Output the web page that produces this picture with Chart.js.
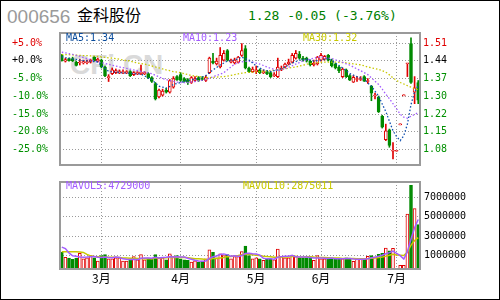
<!DOCTYPE html>
<html>
<head>
<meta charset="utf-8">
<script src="https://cdn.jsdelivr.net/npm/chart.js@4.4.1/dist/chart.umd.min.js"></script>
<style>
  body { margin: 0; background: #fff; }
  #wrap { position: relative; width: 500px; height: 300px; overflow: hidden; background: #fff; }
  #frame { position: absolute; left: 0; top: 0; width: 500px; height: 300px; box-sizing: border-box; border: 1px solid #000; }
  .txt { position: absolute; white-space: nowrap; }
  #code { left: 7px; top: 7px; font: 19px/19px "Liberation Sans", sans-serif; color: #9a9a9a; }
  #name { left: 77px; top: 6px; font: 16px/16px "Noto Sans CJK SC", sans-serif; color: #000; }
  #quote { left: 248px; top: 9px; font: 13px/13px "DejaVu Sans Mono", monospace; color: #008000; }
  .leg { font: 10px/10px "DejaVu Sans Mono", monospace; }
  #watermark { left: 70px; top: 51px; font: bold 28px/28px "Liberation Sans", sans-serif; color: #dadada; }
  canvas { position: absolute; left: 0; }
</style>
</head>
<body>
<div id="wrap">
  <div class="txt" id="code">000656</div>
  <div class="txt" id="name">金科股份</div>
  <div class="txt" id="quote">1.28 -0.05 (-3.76%)</div>
  <div class="txt" id="watermark">CFi.CN</div>
  <canvas id="priceChart" width="500" height="150" style="top:24px"></canvas>
  <canvas id="volChart" width="500" height="128" style="top:172px"></canvas>
  <div class="txt leg" style="left:66px;top:33px;color:#0a4c9c">MA5:1.34</div>
  <div class="txt leg" style="left:183px;top:33px;color:#a35cff">MA10:1.23</div>
  <div class="txt leg" style="left:303px;top:33px;color:#c8c800">MA30:1.32</div>
  <div class="txt leg" style="left:66px;top:181px;color:#a35cff">MAVOL5:4729000</div>
  <div class="txt leg" style="left:243px;top:181px;color:#c8c800">MAVOL10:2875011</div>
  <div id="frame"></div>
</div>
<script>
// reference close for the % axis, and tick labels
const basePrice = 1.44;
const pctTicks = [5, 0, -5, -10, -15, -20, -25];
const volTicks = [7000000, 5000000, 3000000, 1000000];
const monthStarts = [11, 33, 54, 72, 93];
const monthLabels = ['3月', '4月', '5月', '6月', '7月'];

// daily candles
const openP = [1.462,1.439,1.449,1.449,1.435,1.431,1.431,1.433,1.435,1.455,
  1.439,1.443,1.415,1.372,1.388,1.392,1.392,1.392,1.392,1.396,
  1.384,1.388,1.388,1.388,1.388,1.372,1.348,1.293,1.301,1.321,
  1.313,1.333,1.376,1.384,1.368,1.364,1.352,1.360,1.372,1.368,
  1.360,1.392,1.439,1.427,1.415,1.443,1.482,1.435,1.431,1.435,
  1.462,1.490,1.411,1.396,1.396,1.403,1.392,1.396,1.392,1.380,
  1.376,1.403,1.415,1.427,1.435,1.451,1.466,1.451,1.451,1.439,
  1.423,1.427,1.443,1.447,1.462,1.439,1.427,1.415,1.376,1.403,
  1.380,1.353,1.364,1.364,1.376,1.356,1.337,1.297,1.293,1.215,
  1.120,1.160,1.073,1.073,1.180,1.298,1.428,1.510,1.313,1.352];
const closeP = [1.440,1.445,1.441,1.441,1.421,1.435,1.437,1.437,1.443,1.441,
  1.447,1.415,1.380,1.376,1.403,1.400,1.396,1.396,1.396,1.380,
  1.392,1.392,1.394,1.392,1.372,1.356,1.285,1.321,1.317,1.313,
  1.360,1.368,1.362,1.360,1.356,1.352,1.372,1.368,1.360,1.364,
  1.372,1.451,1.431,1.439,1.462,1.470,1.443,1.443,1.443,1.455,
  1.482,1.411,1.396,1.407,1.403,1.392,1.396,1.388,1.376,1.384,
  1.415,1.411,1.427,1.435,1.462,1.470,1.451,1.443,1.439,1.423,
  1.431,1.455,1.462,1.458,1.443,1.419,1.411,1.400,1.407,1.376,
  1.361,1.373,1.366,1.368,1.357,1.358,1.309,1.301,1.234,1.171,
  1.156,1.097,1.073,1.073,1.180,1.298,1.428,1.352,1.330,1.280];
const highP = [1.466,1.451,1.451,1.455,1.439,1.447,1.443,1.443,1.447,1.458,
  1.451,1.447,1.419,1.384,1.411,1.407,1.403,1.403,1.400,1.400,
  1.396,1.396,1.423,1.396,1.392,1.376,1.352,1.325,1.325,1.329,
  1.364,1.376,1.380,1.392,1.372,1.368,1.376,1.376,1.376,1.376,
  1.380,1.455,1.470,1.451,1.494,1.482,1.486,1.447,1.451,1.458,
  1.510,1.502,1.415,1.415,1.419,1.407,1.403,1.400,1.396,1.392,
  1.451,1.419,1.431,1.447,1.470,1.482,1.478,1.458,1.455,1.443,
  1.443,1.458,1.470,1.462,1.466,1.447,1.431,1.419,1.411,1.407,
  1.384,1.380,1.376,1.376,1.380,1.368,1.340,1.309,1.297,1.219,
  1.183,1.163,1.108,1.073,1.180,1.298,1.428,1.533,1.376,1.360];
const lowP = [1.439,1.435,1.439,1.437,1.419,1.423,1.427,1.427,1.431,1.439,
  1.435,1.411,1.376,1.356,1.384,1.388,1.388,1.388,1.388,1.376,
  1.380,1.384,1.384,1.384,1.368,1.352,1.281,1.289,1.297,1.309,
  1.309,1.329,1.360,1.356,1.352,1.344,1.348,1.356,1.356,1.360,
  1.356,1.388,1.427,1.423,1.411,1.439,1.439,1.431,1.427,1.431,
  1.458,1.407,1.392,1.392,1.388,1.388,1.388,1.384,1.372,1.376,
  1.372,1.400,1.411,1.423,1.431,1.447,1.447,1.439,1.435,1.419,
  1.419,1.423,1.439,1.443,1.439,1.415,1.407,1.392,1.372,1.372,
  1.360,1.352,1.356,1.360,1.356,1.348,1.278,1.285,1.230,1.167,
  1.116,1.089,1.042,1.073,1.180,1.298,1.376,1.348,1.266,1.266];

const ma5 = [1.456,1.453,1.451,1.448,1.446,1.443,1.441,1.440,1.438,1.437,
  1.435,1.421,1.409,1.397,1.395,1.394,1.393,1.391,1.390,1.389,
  1.388,1.387,1.386,1.379,1.371,1.364,1.350,1.337,1.333,1.329,
  1.336,1.344,1.348,1.352,1.356,1.360,1.363,1.365,1.368,1.374,
  1.380,1.392,1.403,1.413,1.423,1.431,1.439,1.441,1.443,1.449,
  1.455,1.449,1.443,1.431,1.419,1.411,1.403,1.400,1.396,1.400,
  1.403,1.409,1.415,1.423,1.431,1.437,1.443,1.445,1.447,1.443,
  1.439,1.441,1.443,1.446,1.449,1.440,1.431,1.421,1.411,1.400,
  1.388,1.382,1.376,1.370,1.364,1.350,1.337,1.317,1.297,1.265,
  1.234,1.195,1.156,1.132,1.116,1.136,1.183,1.262,1.314,1.340];
const ma10 = [1.475,1.472,1.469,1.466,1.462,1.458,1.453,1.449,1.444,1.440,
  1.436,1.433,1.429,1.426,1.422,1.419,1.415,1.412,1.409,1.406,
  1.403,1.400,1.397,1.394,1.391,1.388,1.381,1.375,1.368,1.364,
  1.360,1.357,1.354,1.352,1.352,1.352,1.354,1.356,1.359,1.361,
  1.364,1.370,1.375,1.381,1.386,1.392,1.404,1.415,1.427,1.432,
  1.436,1.438,1.439,1.435,1.431,1.427,1.421,1.415,1.410,1.405,
  1.400,1.404,1.407,1.414,1.420,1.427,1.433,1.439,1.443,1.447,
  1.451,1.454,1.456,1.454,1.451,1.449,1.444,1.439,1.434,1.428,
  1.423,1.415,1.407,1.400,1.392,1.384,1.371,1.357,1.344,1.325,
  1.305,1.286,1.266,1.245,1.223,1.211,1.207,1.215,1.222,1.230];
const ma30 = [1.466,1.465,1.465,1.464,1.463,1.462,1.461,1.461,1.460,1.459,
  1.458,1.456,1.454,1.452,1.451,1.449,1.447,1.443,1.441,1.439,
  1.435,1.431,1.429,1.427,1.423,1.419,1.415,1.411,1.407,1.403,
  1.400,1.396,1.394,1.392,1.388,1.384,1.380,1.378,1.376,1.374,
  1.372,1.372,1.373,1.374,1.375,1.376,1.378,1.381,1.384,1.387,
  1.390,1.392,1.393,1.394,1.395,1.396,1.397,1.399,1.400,1.402,
  1.403,1.406,1.408,1.410,1.413,1.415,1.419,1.422,1.426,1.429,
  1.431,1.433,1.434,1.435,1.435,1.435,1.435,1.434,1.433,1.432,
  1.430,1.428,1.426,1.424,1.420,1.415,1.412,1.408,1.405,1.400,
  1.394,1.383,1.371,1.360,1.352,1.346,1.339,1.333,1.327,1.322];

// volume (shares); null = no trading that day
const volume = [1350000,860000,760000,640000,760000,1260000,700000,800000,1030000,800000,
  470000,1030000,1130000,700000,700000,800000,800000,470000,470000,600000,
  930000,600000,1130000,600000,700000,700000,1130000,800000,800000,600000,
  1200000,930000,1030000,700000,600000,540000,370000,500000,370000,470000,
  700000,1620000,1350000,800000,1200000,1030000,1130000,700000,930000,930000,
  1450000,2010000,1030000,700000,800000,700000,540000,700000,700000,600000,
  1690000,930000,800000,800000,1030000,930000,800000,800000,800000,800000,
  540000,1030000,700000,700000,700000,700000,700000,700000,700000,800000,
  700000,450000,650000,700000,700000,950000,1030000,900000,1150000,1250000,
  1790000,1520000,1760000,null,30000,30000,5290000,8240000,5850000,4200000];
const mavol5 = [1900000,1750000,1300000,1000000,950000,880000,850000,870000,900000,920000,
  860000,830000,890000,830000,810000,870000,830000,690000,650000,630000,
  650000,610000,750000,770000,790000,750000,850000,790000,830000,850000,
  910000,870000,910000,890000,890000,760000,650000,550000,480000,450000,
  480000,730000,900000,990000,1130000,1200000,1100000,970000,1000000,940000,
  1030000,1240000,1270000,1220000,1200000,1060000,750000,690000,690000,650000,
  850000,920000,960000,960000,1050000,900000,870000,870000,870000,830000,
  770000,790000,780000,760000,740000,770000,700000,700000,700000,720000,
  720000,670000,660000,660000,640000,690000,810000,860000,950000,1060000,
  1220000,1330000,1490000,1260000,1020000,670000,1430000,2720000,3890000,4729000];
const mavol10 = [1420000,1420000,1420000,1420000,1420000,1400000,1350000,1150000,1000000,930000,
  900000,860000,860000,850000,850000,860000,830000,790000,770000,750000,
  760000,720000,720000,710000,720000,680000,800000,780000,810000,800000,
  830000,830000,850000,840000,860000,810000,760000,710000,690000,670000,
  620000,640000,720000,740000,790000,840000,920000,940000,1000000,1040000,
  1110000,1170000,1130000,1110000,1070000,1040000,960000,930000,910000,850000,
  860000,870000,880000,890000,920000,950000,860000,880000,900000,900000,
  870000,850000,840000,830000,810000,790000,790000,780000,740000,740000,
  730000,720000,710000,690000,690000,700000,750000,780000,820000,870000,
  960000,1060000,1170000,1080000,1060000,1030000,1380000,2100000,2580000,2875011];

const RED = '#e00000';
const GREEN = '#008a00';
const GRID = '#9a9a9a';
const days = closeP.map((_, i) => i);
const isUp = closeP.map((c, i) => c >= openP[i]);

Chart.defaults.font.family = '"DejaVu Sans Mono", monospace';
Chart.defaults.font.size = 10;

const panelFrame = {
    id: 'panelFrame',
    afterDraw(chart) {
        const { ctx, chartArea } = chart;
        ctx.save();
        ctx.strokeStyle = '#9a9a9a';
        ctx.lineWidth = 2;
        ctx.strokeRect(chartArea.left, chartArea.top, chartArea.right - chartArea.left, chartArea.bottom - chartArea.top);
        ctx.restore();
    }
};

const monthAxis = (showLabels, height) => ({
    type: 'category',
    offset: true,
    afterBuildTicks: (scale) => { scale.ticks = monthStarts.map(v => ({ value: v })); },
    afterFit: (scale) => { scale.height = height; },
    grid: { offset: false, drawTicks: false, color: GRID, lineWidth: 1 },
    border: { display: false, dash: [1, 2] },
    ticks: {
        display: showLabels,
        autoSkip: false,
        maxRotation: 0,
        minRotation: 0,
        padding: 2,
        color: '#000',
        font: { family: '"Noto Sans CJK SC", sans-serif', size: 12 },
        callback: (v, i) => monthLabels[i]
    }
});

const priceMin = 1.017;
const priceMax = 1.553;
const tickColor = (v) => (v > basePrice + 1e-6 ? RED : (Math.abs(v - basePrice) < 1e-6 ? '#000' : '#009000'));

new Chart(document.getElementById('priceChart'), {
    type: 'bar',
    data: {
        labels: days,
        datasets: [
            {
                label: 'wick',
                data: lowP.map((l, i) => [l, highP[i]]),
                backgroundColor: isUp.map(u => (u ? RED : GREEN)),
                barThickness: 1,
                grouped: false,
                minBarLength: 1,
                order: 3,
                yAxisID: 'price'
            },
            {
                label: 'body',
                data: openP.map((o, i) => [o, closeP[i]]),
                backgroundColor: isUp.map(u => (u ? '#fff' : GREEN)),
                borderColor: isUp.map(u => (u ? RED : GREEN)),
                borderWidth: 1,
                borderSkipped: false,
                barThickness: 3,
                grouped: false,
                minBarLength: 1,
                order: 2,
                yAxisID: 'price'
            },
            { type: 'line', label: 'MA5', data: ma5, borderColor: '#1050b0', borderWidth: 1.3, borderDash: [1.5, 2], pointRadius: 0, order: 1, yAxisID: 'price' },
            { type: 'line', label: 'MA10', data: ma10, borderColor: '#a35cff', borderWidth: 1.3, borderDash: [1.5, 2], pointRadius: 0, order: 1, yAxisID: 'price' },
            { type: 'line', label: 'MA30', data: ma30, borderColor: '#c8c800', borderWidth: 1.3, borderDash: [1.5, 2], pointRadius: 0, order: 1, yAxisID: 'price' }
        ]
    },
    options: {
        responsive: false,
        animation: false,
        layout: { padding: { top: 8, bottom: 6, left: 12, right: 0 } },
        plugins: { legend: { display: false }, tooltip: { enabled: false } },
        scales: {
            x: monthAxis(false, 0),
            price: {
                position: 'right',
                min: priceMin,
                max: priceMax,
                afterBuildTicks: (scale) => { scale.ticks = pctTicks.map(p => ({ value: basePrice * (1 + p / 100) })); },
                afterFit: (scale) => { scale.width = 80; },
                grid: { drawTicks: false, color: GRID },
                border: { display: false, dash: [1, 2] },
                ticks: {
                    padding: 3,
                    color: (ctx) => tickColor(ctx.tick.value),
                    callback: (v) => v.toFixed(2)
                }
            },
            pct: {
                position: 'left',
                min: (priceMin / basePrice - 1) * 100,
                max: (priceMax / basePrice - 1) * 100,
                afterBuildTicks: (scale) => { scale.ticks = pctTicks.map(p => ({ value: p })); },
                afterFit: (scale) => { scale.width = 48; },
                grid: { display: false, drawTicks: false },
                border: { display: false },
                ticks: {
                    crossAlign: 'far',
                    padding: 0,
                    color: (ctx) => tickColor(basePrice * (1 + ctx.tick.value / 100)),
                    callback: (v) => (v >= 0 ? '+' : '') + v.toFixed(1) + '%'
                }
            }
        }
    },
    plugins: [panelFrame]
});

const volMin = -350000;
const volMax = 8580000;

new Chart(document.getElementById('volChart'), {
    type: 'bar',
    data: {
        labels: days,
        datasets: [
            {
                label: 'VOL',
                data: volume,
                base: volMin,
                backgroundColor: isUp.map(u => (u ? '#fff' : GREEN)),
                borderColor: isUp.map(u => (u ? RED : GREEN)),
                borderWidth: 1,
                borderSkipped: false,
                barThickness: 3,
                grouped: false,
                order: 2,
                yAxisID: 'vol'
            },
            { type: 'line', label: 'MAVOL5', data: mavol5, borderColor: '#a35cff', borderWidth: 1.5, pointRadius: 0, order: 1, yAxisID: 'vol' },
            { type: 'line', label: 'MAVOL10', data: mavol10, borderColor: '#c8c800', borderWidth: 1.5, pointRadius: 0, order: 1, yAxisID: 'vol' }
        ]
    },
    options: {
        responsive: false,
        animation: false,
        layout: { padding: { top: 6, bottom: 0, left: 60, right: 0 } },
        plugins: { legend: { display: false }, tooltip: { enabled: false } },
        scales: {
            x: monthAxis(true, 31),
            vol: {
                position: 'right',
                min: volMin,
                max: volMax,
                afterBuildTicks: (scale) => { scale.ticks = volTicks.map(v => ({ value: v })); },
                afterFit: (scale) => { scale.width = 80; },
                grid: { drawTicks: false, color: GRID },
                border: { display: false, dash: [1, 2] },
                ticks: { padding: 4, color: '#000', callback: (v) => String(v) }
            }
        }
    },
    plugins: [panelFrame]
});
</script>
</body>
</html>
